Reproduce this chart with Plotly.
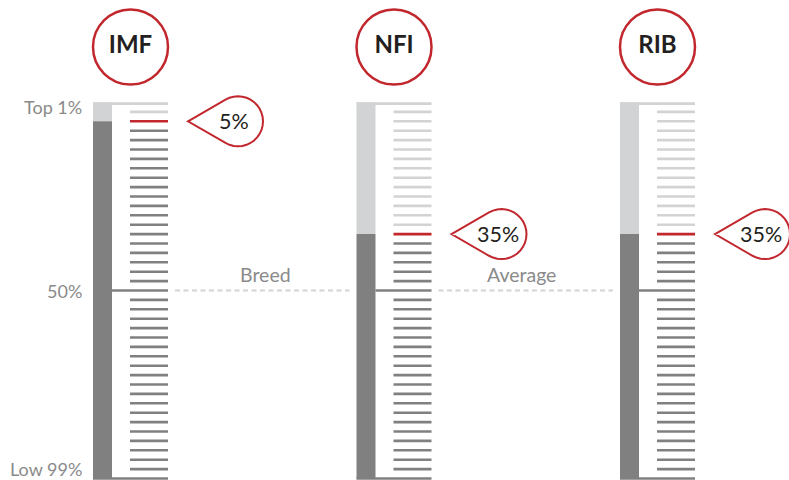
import math
import plotly.graph_objects as go

# ---------------- data ----------------
traits = ["IMF", "NFI", "RIB"]
percentiles = [5, 35, 35]
scale_labels = ["Top 1%", "50%", "Low 99%"]
scale_label_pos = [1.2, 50, 97.6]
band_labels = ["Breed", "Average"]
tick_step = 2.5
midpoint = 50

# ---------------- styles / layout ----------------
W, H = 789, 480
LIGHT = "#d1d3d4"
DARK = "#808080"
RED = "#c1272d"
TXT_GRAY = "#8a8a8a"
TXT_DARK = "#231f20"
FONT = "Lato"

G0 = 93.0        # left edge of first gauge (px)
GAP = 263.5      # spacing between gauges (px)
BAR_W = 19
TICK_X0 = 37
TICK_X1 = 75
BAND_LABEL_SHIFT = [3.5, -4.0]   # horizontal nudge of the band labels (px)

# y axis in percentile units: p=0 -> 102.5px, p=100 -> 478.5px
PX_PER_P = 3.76
TOP_PX = 102.5
y_top = -TOP_PX / PX_PER_P
y_bot = (H - TOP_PX) / PX_PER_P

fig = go.Figure()
shapes = []
annotations = []

segs = {"light": ([], []), "red": ([], []), "dark": ([], [])}

n_ticks = int(round(100 / tick_step))
for i, (name, val) in enumerate(zip(traits, percentiles)):
    gx = G0 + i * GAP
    # left bar
    shapes.append(dict(type="rect", xref="x", yref="y", x0=gx, x1=gx + BAR_W,
                       y0=0, y1=val, fillcolor=LIGHT, line=dict(width=0), layer="below"))
    shapes.append(dict(type="rect", xref="x", yref="y", x0=gx, x1=gx + BAR_W,
                       y0=val, y1=100, fillcolor=DARK, line=dict(width=0), layer="below"))
    # top & bottom frame lines
    segs["light"][0].extend([gx, gx + TICK_X1, None])
    segs["light"][1].extend([0.3, 0.3, None])
    segs["dark"][0].extend([gx, gx + TICK_X1, None])
    segs["dark"][1].extend([100, 100, None])
    # midpoint line
    segs["dark"][0].extend([gx + BAR_W, gx + TICK_X1, None])
    segs["dark"][1].extend([midpoint, midpoint, None])
    # ticks
    for k in range(1, n_ticks):
        p = k * tick_step
        if abs(p - midpoint) < 1e-9:
            continue
        if abs(p - val) < 1e-9:
            key = "red"
        elif p < val:
            key = "light"
        else:
            key = "dark"
        segs[key][0].extend([gx + TICK_X0, gx + TICK_X1, None])
        segs[key][1].extend([p, p, None])

    # title circle
    cx = gx + 37.5
    fig.add_trace(go.Scatter(x=[cx], y=[y_top + 47 / PX_PER_P], mode="markers+text",
                             marker=dict(size=75, color="white", line=dict(color=RED, width=2.5)),
                             text=[f"<b>{name}</b>"], textposition="middle center",
                             textfont=dict(family=FONT, size=24, color=TXT_DARK),
                             hoverinfo="skip", showlegend=False))

    # callout teardrop (pixel-sized, anchored at tip)
    tip_x = gx + TICK_X1 + 20
    r = 25
    c = 50
    pts = [(0, 0)]
    for a in range(120, -121, -10):
        rad = math.radians(a)
        pts.append((c + r * math.cos(rad), r * math.sin(rad)))
    path = "M" + " L".join(f"{x:.2f},{y:.2f}" for x, y in pts) + " Z"
    shapes.append(dict(type="path", xref="x", yref="y", xsizemode="pixel", ysizemode="pixel",
                       xanchor=tip_x, yanchor=val, path=path,
                       fillcolor="white", line=dict(color=RED, width=2)))
    annotations.append(dict(x=tip_x + 46, y=val, xref="x", yref="y", text=f"{val}%",
                            showarrow=False, font=dict(family=FONT, size=21.5, color=TXT_DARK),
                            xanchor="center", yanchor="middle"))

color_map = {"light": LIGHT, "red": RED, "dark": DARK}
for key in ["light", "dark", "red"]:
    xs, ys = segs[key]
    fig.add_trace(go.Scatter(x=xs, y=ys, mode="lines",
                             line=dict(color=color_map[key], width=2.6),
                             hoverinfo="skip", showlegend=False))

# dashed breed-average line between gauges
for j in range(len(traits) - 1):
    gx = G0 + j * GAP
    x0 = gx + TICK_X1 + 7
    x1 = G0 + (j + 1) * GAP - 7
    fig.add_trace(go.Scatter(x=[x0, x1], y=[midpoint, midpoint], mode="lines",
                             line=dict(color=LIGHT, width=2, dash="5px,3.5px"),
                             hoverinfo="skip", showlegend=False))
    annotations.append(dict(x=(x0 + x1) / 2 + BAND_LABEL_SHIFT[j], y=midpoint - 4.2,
                            xref="x", yref="y", text=band_labels[j], showarrow=False,
                            font=dict(family=FONT, size=19.5, color=TXT_GRAY),
                            xanchor="center", yanchor="middle"))

# scale labels
for lab, p in zip(scale_labels, scale_label_pos):
    annotations.append(dict(x=84, y=p, xref="x", yref="y", text=lab, showarrow=False,
                            font=dict(family=FONT, size=18, color=TXT_GRAY),
                            xanchor="right", yanchor="middle"))

fig.update_layout(
    width=W, height=H,
    margin=dict(l=0, r=0, t=0, b=0),
    paper_bgcolor="white", plot_bgcolor="white",
    xaxis=dict(range=[0, W], visible=False, fixedrange=True),
    yaxis=dict(range=[y_bot, y_top], visible=False, fixedrange=True),
    shapes=shapes, annotations=annotations,
    showlegend=False,
)

fig.write_html("out.html", config={"displayModeBar": False},
               post_script="document.body.style.margin='0px';document.body.style.overflow='hidden';")
